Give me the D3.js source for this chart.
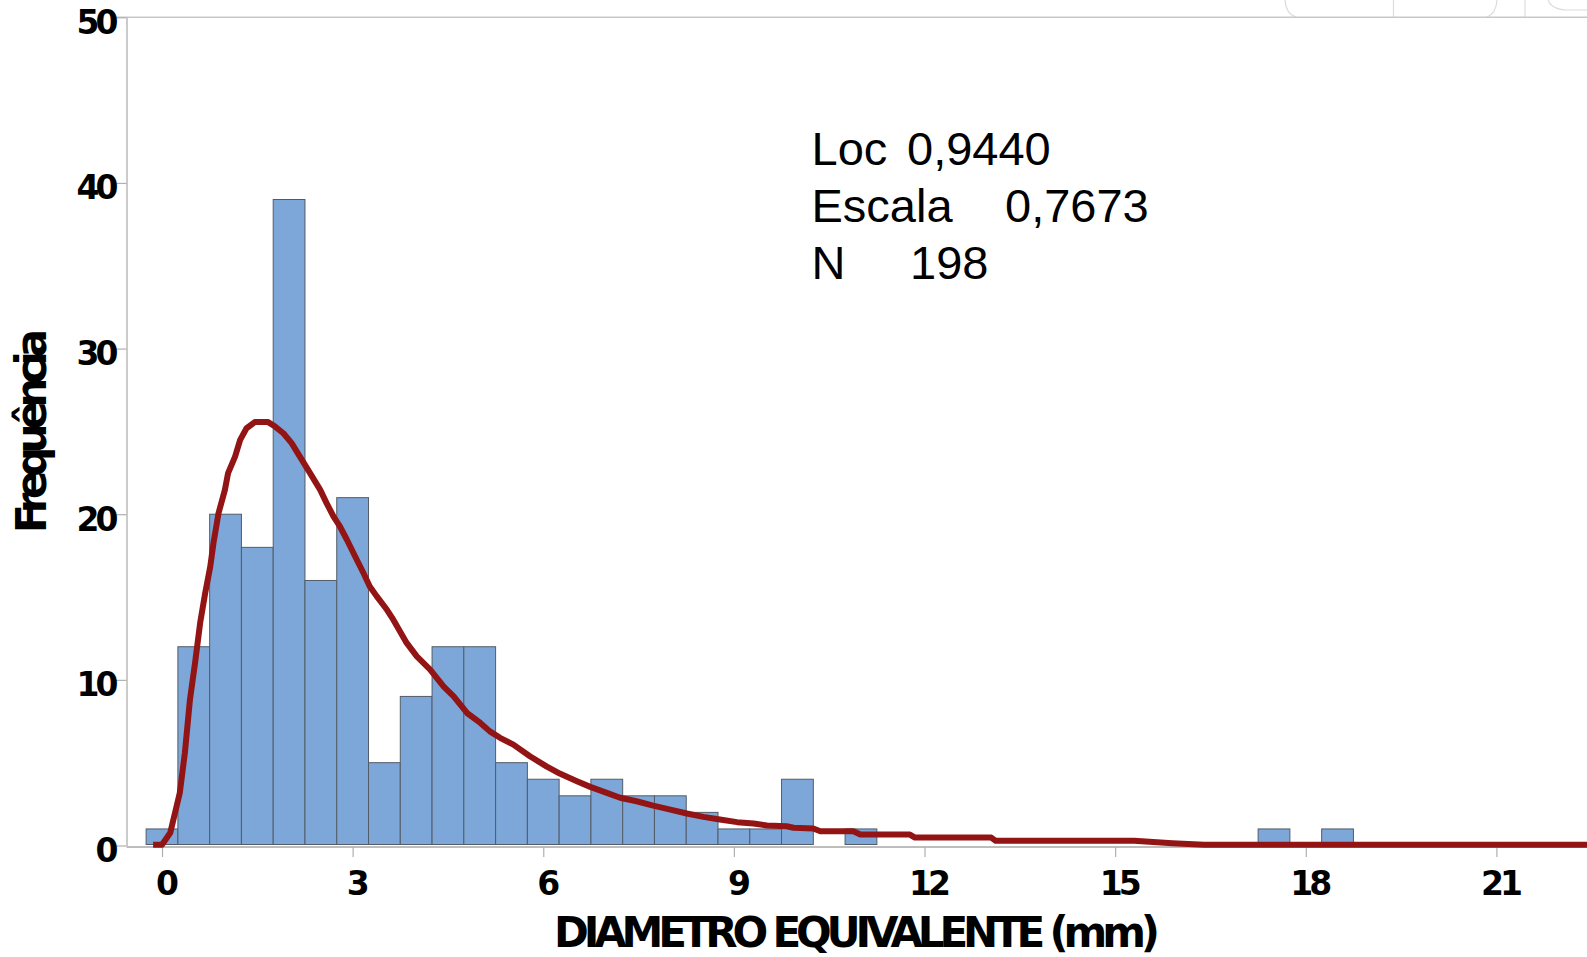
<!DOCTYPE html>
<html><head><meta charset="utf-8">
<script src="https://cdn.jsdelivr.net/npm/d3@7"></script>
<style>
html,body{margin:0;padding:0;background:#fff;overflow:hidden}
</style></head>
<body>
<script>
// ---- data ----
const binCenters = [0, 0.5, 1, 1.5, 2, 2.5, 3, 3.5, 4, 4.5, 5, 5.5, 6, 6.5, 7, 7.5, 8, 8.5, 9, 9.5, 10, 11, 17.5, 18.5];
const counts     = [1, 12, 20, 18, 39, 16, 21, 5, 9, 12, 12, 5, 4, 3, 4, 3, 3, 2, 1, 1, 4, 1, 1, 1];
const binWidth = 0.5;

const curveX = [-0.14, 0.0, 0.13, 0.28, 0.36, 0.44, 0.52, 0.60, 0.68, 0.76, 0.81, 0.89, 0.99, 1.04, 1.15, 1.23, 1.33, 1.46, 1.67, 1.78, 1.91, 2.04, 2.17, 2.33, 2.49, 2.59, 2.70, 2.80, 2.91, 3.04, 3.17, 3.27, 3.38, 3.54, 3.64, 3.85, 4.01, 4.22, 4.43, 4.59, 4.80, 5.01, 5.16, 5.32, 5.53, 5.79, 6.05, 6.26, 6.53, 6.74, 7.00, 7.21, 7.47, 7.73, 8.00, 8.26, 8.52, 8.78, 9.05, 9.31, 9.52, 9.83, 9.94, 10.25, 10.36, 10.88, 10.99, 11.77, 11.85, 13.05, 13.12, 15.30, 15.9, 16.40, 22.8];
const curveY = [0.05, 0.05, 0.77, 3.18, 5.59, 8.81, 11.02, 13.43, 15.24, 16.85, 18.26, 20.07, 21.47, 22.48, 23.48, 24.49, 25.19, 25.56, 25.56, 25.29, 24.89, 24.29, 23.48, 22.48, 21.47, 20.67, 19.86, 19.26, 18.46, 17.45, 16.45, 15.64, 15.04, 14.23, 13.63, 12.23, 11.42, 10.62, 9.61, 9.00, 8.00, 7.40, 6.89, 6.50, 6.09, 5.39, 4.78, 4.34, 3.88, 3.54, 3.18, 2.88, 2.67, 2.41, 2.17, 1.93, 1.73, 1.57, 1.41, 1.33, 1.21, 1.16, 1.07, 1.03, 0.86, 0.86, 0.66, 0.66, 0.48, 0.48, 0.28, 0.28, 0.14, 0.05, 0.05];

const xTicks = [0, 3, 6, 9, 12, 15, 18, 21];
const yTicks = [0, 10, 20, 30, 40, 50];
const statLabels = ["Loc", "Escala", "N"];
const statValues = ["0,9440", "0,7673", "198"];

// ---- drawing ----
const W = 1587, H = 957;
const svg = d3.select("body").append("svg").attr("width", W).attr("height", H);

const x = d3.scaleLinear().domain([0, 21]).range([162, 1496.4]);
const y = d3.scaleLinear().domain([0, 50]).range([845.5, 17.3]);
const axisLeftX = 126.5;
const axisBottomY = 847;

// faint UI remnants at top-right
const deco = svg.append("g").attr("fill", "none").attr("stroke", "#dcdcdc").attr("stroke-width", 1.2);
deco.append("path").attr("d", "M1285,0 Q1286,14 1296,17");
deco.append("path").attr("d", "M1497,0 Q1496,14 1487,17");
deco.append("path").attr("d", "M1393.5,0 V17");
deco.append("path").attr("d", "M1525,0 V17");
deco.append("path").attr("d", "M1548,0 Q1552,10 1568,10 H1587");

// top border line
svg.append("line").attr("x1", 114).attr("x2", W).attr("y1", y(50)).attr("y2", y(50))
  .attr("stroke", "#c8c8c8").attr("stroke-width", 1.6);

// bars
svg.append("g").selectAll("rect").data(binCenters).join("rect")
  .attr("x", (d) => x(d - binWidth / 2))
  .attr("width", (d) => x(d + binWidth / 2) - x(d - binWidth / 2))
  .attr("y", (d, i) => y(counts[i]))
  .attr("height", (d, i) => y(0) - y(counts[i]) - 1)
  .attr("fill", "#7da7d8")
  .attr("stroke", "#535c66")
  .attr("stroke-width", 1);

// bottom axis line
svg.append("line").attr("x1", axisLeftX).attr("x2", W).attr("y1", axisBottomY).attr("y2", axisBottomY)
  .attr("stroke", "#bdbdbd").attr("stroke-width", 2);

// x axis ticks
const xAxis = svg.append("g").attr("transform", `translate(0,${axisBottomY})`)
  .call(d3.axisBottom(x).tickValues(xTicks).tickSize(10).tickSizeOuter(0).tickFormat(d3.format("d")));
xAxis.select(".domain").remove();
xAxis.selectAll(".tick line").attr("stroke", "#b0b0b0").attr("stroke-width", 1.2);
xAxis.selectAll(".tick text")
  .attr("y", 48).attr("dy", 0).attr("x", 3)
  .attr("fill", "#000")
  .style("font-family", "'DejaVu Sans', sans-serif")
  .style("font-weight", "bold").style("font-size", "33px").style("letter-spacing", "-4px");

// y axis
const yAxis = svg.append("g").attr("transform", `translate(${axisLeftX},0)`)
  .call(d3.axisLeft(y).tickValues(yTicks).tickSize(12.5).tickSizeOuter(0).tickFormat(d3.format("d")));
yAxis.select(".domain").attr("stroke", "#a8a8a8").attr("stroke-width", 1.2);
yAxis.selectAll(".tick line").attr("stroke", "#b0b0b0").attr("stroke-width", 1.2);
yAxis.selectAll(".tick text")
  .attr("x", -12).attr("dy", 0).attr("y", 16)
  .attr("fill", "#000")
  .style("font-family", "'DejaVu Sans', sans-serif")
  .style("font-weight", "bold").style("font-size", "33px").style("letter-spacing", "-4px");

// fitted curve
const line = d3.line().x((d) => x(d[0])).y((d) => y(d[1]));
svg.append("path")
  .datum(curveX.map((v, i) => [v, curveY[i]]))
  .attr("d", line)
  .attr("fill", "none")
  .attr("stroke", "#931414")
  .attr("stroke-width", 6)
  .attr("stroke-linejoin", "round");

// stats text
const stats = svg.append("g").style("font-family", "'Liberation Sans', Arial, sans-serif").style("font-size", "47px").attr("fill", "#000");
const statBaselines = [165, 222, 279];
const valueX = [907, 1005, 910];
statLabels.forEach((t, i) => {
  stats.append("text").attr("x", 811.5).attr("y", statBaselines[i]).text(t);
  stats.append("text").attr("x", valueX[i]).attr("y", statBaselines[i]).text(statValues[i]);
});

// axis titles
svg.append("text")
  .attr("x", 857).attr("y", 947)
  .attr("text-anchor", "middle")
  .attr("textLength", 606).attr("lengthAdjust", "spacing")
  .style("font-family", "'DejaVu Sans', sans-serif")
  .style("font-weight", "bold").style("font-size", "42px")
  .attr("fill", "#000")
  .text("DIAMETRO EQUIVALENTE (mm)");

svg.append("text")
  .attr("transform", "translate(46,431) rotate(-90)")
  .attr("text-anchor", "middle")
  .attr("textLength", 204).attr("lengthAdjust", "spacing")
  .style("font-family", "'DejaVu Sans', sans-serif")
  .style("font-weight", "bold").style("font-size", "42px")
  .attr("fill", "#000")
  .text("Frequência");
</script>
</body></html>
